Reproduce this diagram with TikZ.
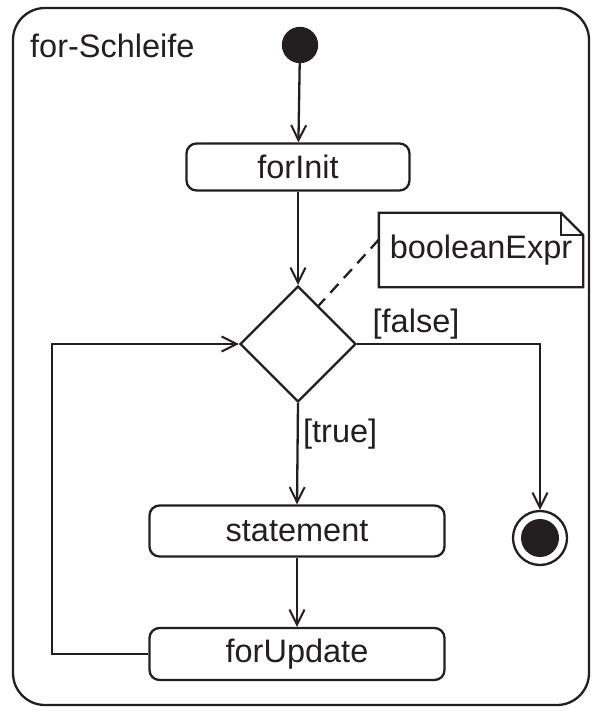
\documentclass[tikz,border=0pt]{standalone}
\usepackage{fontspec}
\setmainfont{Liberation Sans}
\usetikzlibrary{shapes.geometric,arrows.meta,calc}
\definecolor{ink}{RGB}{35,31,32}
\begin{document}
\begin{tikzpicture}[x=1pt,y=-1pt,
  line width=2.3pt, draw=ink, text=ink,
  every node/.style={font=\fontsize{32.5}{38}\selectfont, text=ink},
  action/.style={draw=ink, rectangle, rounded corners=10pt, inner sep=0pt},
  flow/.style={draw=ink, -{Straight Barb[length=15pt,width=15pt,line width=2pt]}},
  guard/.style={inner sep=0pt},
]
\useasboundingbox (0,0) rectangle (591,711);
% enclosing activity frame
\draw[rounded corners=32pt] (13,8) rectangle (589,705);
\node[anchor=west, inner sep=0pt] (title) at (29,46) {for-Schleife};

% initial and final nodes
\node[circle, fill=ink, draw=ink, minimum size=34pt, inner sep=0pt] (start) at (300,45) {};
\node[circle, draw=ink, minimum size=54pt, inner sep=0pt] (final) at (540,538) {};
\node[circle, fill=ink, minimum size=38pt, inner sep=0pt] (finaldot) at (final.center) {};

% actions
\node[action, minimum width=223pt, minimum height=47pt] (init) at (298,167) {forInit};
\node[action, minimum width=295pt, minimum height=51pt] (stmt) at (297,531) {statement};
\node[action, minimum width=295pt, minimum height=52pt] (update) at (297,654) {forUpdate};

% decision
\node[diamond, draw=ink, minimum width=116pt, minimum height=116pt, inner sep=0pt] (dec) at (298,344) {};

% note with folded corner
\node[minimum width=202pt, minimum height=72pt, inner sep=0pt] (note) at (481,250) {booleanExpr};
\draw ($(note.north east)+(-22,0)$) -- (note.north west) -- (note.south west)
      -- (note.south east) -- ($(note.north east)+(0,22)$) -- cycle;
\draw ($(note.north east)+(-22,0)$) -- ($(note.north east)+(-22,22)$) -- ($(note.north east)+(0,22)$);
\draw[dash pattern=on 12pt off 8pt]
  ($(note.north west)!0.36!(note.south west)$) -- ($(dec.north)!0.35!(dec.east)$);

% control flow
\coordinate (loop) at (52,654);
\draw[flow] (start) -- (init);
\draw[flow] (init) -- (dec.north);
\draw[flow] (dec.south) -- (stmt.north);
\draw[flow] (stmt) -- (update);
\draw[flow] (update.west) -- (loop) |- (dec.west);
\draw[flow] (dec.east) -| (final.north);

% guards
\node[guard, anchor=west] (gtrue) at (302,434) {[true]};
\node[guard] (gfalse) at (416,324) {[false]};
\end{tikzpicture}
\end{document}
